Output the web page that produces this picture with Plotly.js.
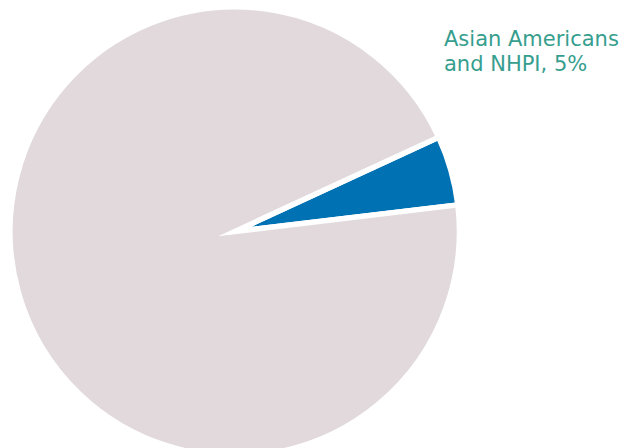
<!DOCTYPE html>
<html>
<head>
<meta charset="utf-8">
<script src="https://cdn.plot.ly/plotly-3.0.1.min.js"></script>
<style>
html,body{margin:0;padding:0;overflow:hidden;background:#fff;width:632px;height:448px;}
#chart{width:632px;height:460px;}
.pielayer path{stroke-linejoin:miter !important;stroke-miterlimit:20 !important;}
</style>
</head>
<body>
<div id="chart"></div>
<script>
const labels = ["Asian Americans and NHPI", "Other"];
const values = [5, 95];
const colors = ["#0072b3", "#e1d9db"];
const labelLines = ["Asian Americans", "and NHPI, 5%"];

const W = 632, H = 460;
const cx = 234.7, cy = 231.5, R = 224.7;

const trace = {
  type: "pie",
  labels: labels,
  values: values,
  sort: false,
  direction: "clockwise",
  rotation: 65.2,
  textinfo: "none",
  hoverinfo: "label+percent",
  marker: {colors: colors, line: {color: "#ffffff", width: 5.4}},
  domain: {x: [(cx - R) / W, (cx + R) / W], y: [(H - cy - R) / H, (H - cy + R) / H]},
  showlegend: false
};

const lineCenters = [38.5, 63.5];
const layout = {
  width: W, height: H,
  margin: {l: 0, r: 0, t: 0, b: 0, pad: 0},
  paper_bgcolor: "#ffffff",
  plot_bgcolor: "#ffffff",
  showlegend: false,
  annotations: labelLines.map((t, i) => ({
    text: t,
    xref: "paper", yref: "paper",
    x: 442 / W, y: 1 - lineCenters[i] / H,
    xanchor: "left", yanchor: "middle",
    align: "left",
    showarrow: false,
    font: {family: "'DejaVu Sans', sans-serif", size: 21, weight: 400, color: "#369e8e"}
  }))
};

Plotly.newPlot("chart", [trace], layout, {displayModeBar: false, staticPlot: true});
</script>
</body>
</html>
